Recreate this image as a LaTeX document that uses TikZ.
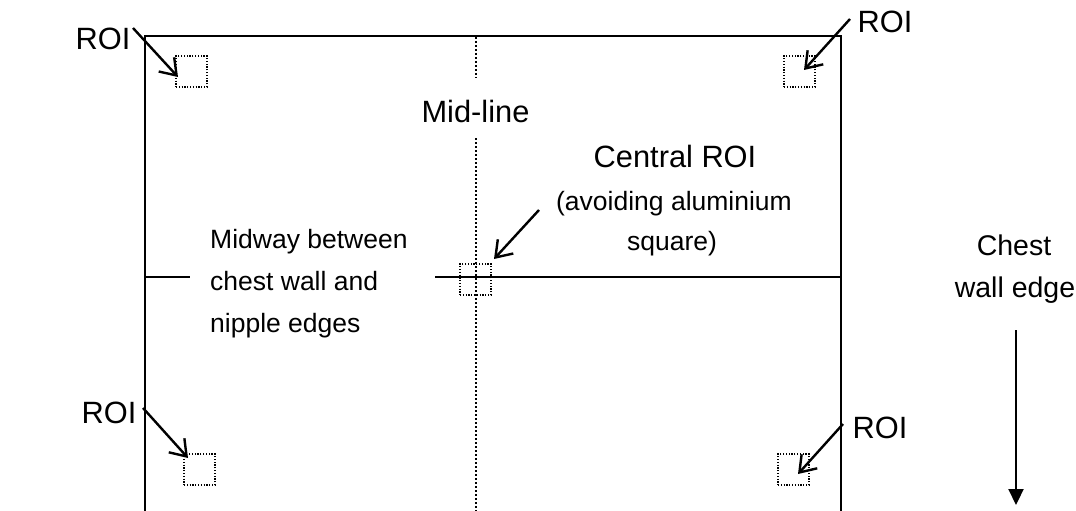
\documentclass[tikz,border=0pt]{standalone}
\usepackage{fontspec}
\setmainfont{Liberation Sans}
\usetikzlibrary{arrows.meta}
\begin{document}
\begin{tikzpicture}[x=1pt,y=-1pt,
  frame/.style={line width=2pt},
  big/.style={font=\fontsize{30.8}{36}\selectfont, inner sep=0pt},
  chest/.style={font=\fontsize{28.5}{34}\selectfont, inner sep=0pt},
  small/.style={font=\fontsize{26.5}{31}\selectfont, inner sep=0pt},
  roibox/.style={draw, line width=1.2pt, dash pattern=on 1.2pt off 1.6pt, minimum size=31pt, inner sep=0pt},
  midline/.style={line width=2pt, dash pattern=on 2pt off 2pt},
  pointer/.style={line width=2.4pt, -{Straight Barb[length=15pt,width=21pt,line width=2.4pt]}},
  chestarrow/.style={line width=2.2pt, -{Triangle[length=16pt,width=15pt]}}]
\useasboundingbox (0,0) rectangle (1076,511);
% frame (open at bottom)
\coordinate (bl) at (145,511);
\coordinate (tl) at (145,36);
\coordinate (tr) at (841,36);
\coordinate (br) at (841,511);
\draw[frame] (bl) -- (tl) -- (tr) -- (br);
% mid-line
\coordinate (mtop) at (476,37);
\coordinate (mtopend) at (476,78);
\coordinate (mbot) at (476,138);
\coordinate (mend) at (476,511);
\draw[midline] (mtop) -- (mtopend);
\draw[midline] (mbot) -- (mend);
\node[big, anchor=base] (midlab) at (475.5,122) {Mid-line};
% horizontal line
\coordinate (h1) at (145,277);
\coordinate (h2) at (190,277);
\coordinate (h3) at (435,277);
\coordinate (h4) at (841,277);
\draw[frame] (h1) -- (h2);
\draw[frame] (h3) -- (h4);
\node[small, anchor=base west] (mw1) at (210,248) {Midway between};
\node[small, anchor=base west] (mw2) at (210,290) {chest wall and};
\node[small, anchor=base west] (mw3) at (210,332) {nipple edges};
% ROI boxes
\node[roibox] (sq1) at (191.5,71.5) {};
\node[roibox] (sq2) at (799.5,71.5) {};
\node[roibox] (sq3) at (199.5,469.5) {};
\node[roibox] (sq4) at (793.5,469.5) {};
\node[roibox] (sqc) at (475.5,279.5) {};
% ROI labels
\node[big, anchor=base] (r1) at (103,50) {ROI};
\node[big, anchor=base] (r2) at (885,33) {ROI};
\node[big, anchor=base] (r3) at (109,423) {ROI};
\node[big, anchor=base] (r4) at (880,438) {ROI};
\coordinate (a1s) at (133,28);  \coordinate (a1e) at (178,77);
\coordinate (a2s) at (850,19);  \coordinate (a2e) at (804,70);
\coordinate (a3s) at (143,408); \coordinate (a3e) at (188,458);
\coordinate (a4s) at (843,424); \coordinate (a4e) at (798,474);
\draw[pointer] (a1s) -- (a1e);
\draw[pointer] (a2s) -- (a2e);
\draw[pointer] (a3s) -- (a3e);
\draw[pointer] (a4s) -- (a4e);
% central ROI
\node[big, anchor=base] (cr) at (675,167) {Central ROI};
\node[small, anchor=base] (cr2) at (674,210) {(avoiding aluminium};
\node[small, anchor=base] (cr3) at (672,250) {square)};
\coordinate (acs) at (539,210); \coordinate (ace) at (494,259);
\draw[pointer] (acs) -- (ace);
% chest wall edge
\node[chest, anchor=base] (ch1) at (1014,255) {Chest};
\node[chest, anchor=base] (ch2) at (1015,297) {wall edge};
\coordinate (cas) at (1016,330); \coordinate (cae) at (1016,505);
\draw[chestarrow] (cas) -- (cae);
\end{tikzpicture}
\end{document}
